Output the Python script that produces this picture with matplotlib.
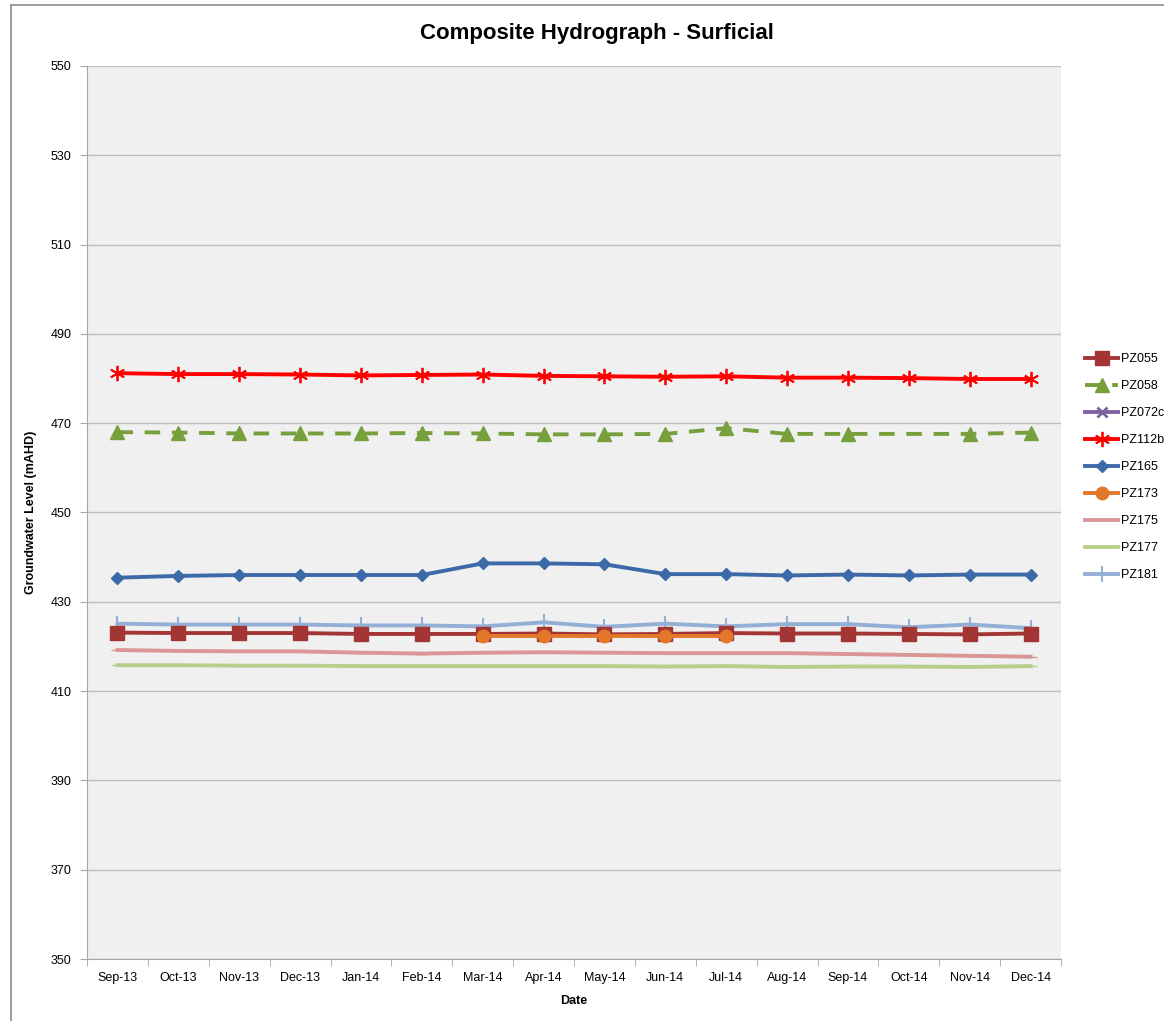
import numpy as np
import matplotlib.pyplot as plt
from matplotlib.lines import Line2D

plt.rcParams['font.family'] = ['Liberation Sans', 'DejaVu Sans']

# Data
dates = ['Sep-13', 'Oct-13', 'Nov-13', 'Dec-13', 'Jan-14', 'Feb-14', 'Mar-14', 'Apr-14',
         'May-14', 'Jun-14', 'Jul-14', 'Aug-14', 'Sep-14', 'Oct-14', 'Nov-14', 'Dec-14']

pz055 = [423.1, 423.0, 423.0, 423.0, 422.8, 422.8, 422.8, 422.9,
         422.7, 422.8, 423.0, 422.9, 422.9, 422.8, 422.7, 422.9]
pz058 = [468.0, 467.9, 467.7, 467.7, 467.7, 467.8, 467.7, 467.5,
         467.5, 467.6, 468.9, 467.6, 467.6, 467.6, 467.6, 467.9]
pz072c = []
pz112b = [481.2, 481.0, 481.0, 480.9, 480.7, 480.8, 480.9, 480.6,
          480.5, 480.4, 480.5, 480.2, 480.2, 480.1, 479.9, 479.9]
pz165 = [435.4, 435.8, 436.0, 436.0, 436.0, 436.0, 438.6, 438.6,
         438.4, 436.2, 436.2, 435.9, 436.1, 435.9, 436.1, 436.1]
pz173_dates = ['Mar-14', 'Apr-14', 'May-14', 'Jun-14', 'Jul-14']
pz173 = [422.3, 422.3, 422.3, 422.3, 422.3]
pz175 = [419.2, 419.0, 418.9, 418.9, 418.6, 418.4, 418.6, 418.7,
         418.6, 418.5, 418.5, 418.5, 418.3, 418.1, 417.9, 417.7]
pz177 = [415.8, 415.8, 415.7, 415.7, 415.6, 415.6, 415.6, 415.6,
         415.6, 415.5, 415.6, 415.4, 415.5, 415.5, 415.4, 415.6]
pz181 = [425.1, 424.9, 424.9, 424.9, 424.7, 424.7, 424.5, 425.4,
         424.4, 425.1, 424.5, 425.0, 425.0, 424.3, 424.9, 424.1]

x = np.arange(len(dates))
x173 = [dates.index(d) for d in pz173_dates]

fig = plt.figure(figsize=(11.64, 10.21), dpi=100)
ax = fig.add_axes([87 / 1164, 1 - 959 / 1021, (1061 - 87) / 1164, (959 - 66) / 1021])
ax.set_facecolor('#f0f0f0')

# outer chart frame
fig.add_artist(Line2D([11 / 1164, 11 / 1164], [0, 1 - 5 / 1021], color='#8c8c8c', lw=1.2))
fig.add_artist(Line2D([11 / 1164, 1], [1 - 5 / 1021, 1 - 5 / 1021], color='#8c8c8c', lw=1.2))

lw = 2.8
ax.plot(x, pz055, color='#a33634', lw=lw, marker='s', ms=10, label='PZ055', zorder=5)
ax.plot(x, pz058, color='#77a03c', lw=lw, ls=(0, (4, 3)), marker='^', ms=10,
        markevery=[i for i in range(len(x)) if i != 13], label='PZ058', zorder=4)
ax.plot(x[:len(pz072c)], pz072c, color='#7f63a1', lw=lw, marker='x', ms=7, mew=2, label='PZ072c')
ax.plot(x, pz112b, color='#ff0000', lw=lw, marker=(6, 2, 0), ms=11, mew=1.3, label='PZ112b', zorder=4)
ax.plot(x, pz165, color='#3c6aa8', lw=lw, marker='D', ms=6, label='PZ165', zorder=4)
ax.plot(x173, pz173, color='#e3782a', lw=lw, marker='o', ms=9, label='PZ173', zorder=6)
ax.plot(x, pz175, color='#d99695', lw=lw, marker='_', ms=8, label='PZ175', zorder=3)
ax.plot(x, pz177, color='#b7cf8d', lw=lw, marker='_', ms=8, label='PZ177', zorder=3)
ax.plot(x, pz181, color='#94afd6', lw=lw, marker='|', ms=11, mew=1.5, label='PZ181', zorder=4)

ax.set_xlim(-0.5, len(dates) - 0.5)
ax.set_ylim(350, 550)
ax.set_yticks(np.arange(350, 551, 20))
ax.yaxis.grid(True, color='#bfbfbf', lw=1)
ax.set_axisbelow(True)

ax.set_xticks(x)
ax.set_xticklabels(dates)
ax.set_xticks(np.arange(-0.5, len(dates), 1), minor=True)
ax.tick_params(axis='x', which='major', length=0, pad=9, labelsize=9)
ax.tick_params(axis='x', which='minor', length=5, color='#a6a6a6')
ax.tick_params(axis='y', length=5, color='#a6a6a6', labelsize=9, pad=6)

for s in ['top', 'right']:
    ax.spines[s].set_visible(False)
for s in ['left', 'bottom']:
    ax.spines[s].set_color('#a6a6a6')

fig.text(597 / 1164, 1 - 33 / 1021, 'Composite Hydrograph - Surficial', fontsize=16,
         fontweight='bold', ha='center', va='center')
ax.set_xlabel('Date', fontsize=9, fontweight='bold', labelpad=8)
ax.set_ylabel('Groundwater Level (mAHD)', fontsize=9, fontweight='bold', labelpad=10)

fig.legend(loc='upper left', bbox_to_anchor=(1079 / 1164, 1 - 347 / 1021), frameon=False,
           borderpad=0, fontsize=9, handlelength=2.6, handletextpad=0.3, labelspacing=1.2)

fig.savefig('out.png', dpi=100)
